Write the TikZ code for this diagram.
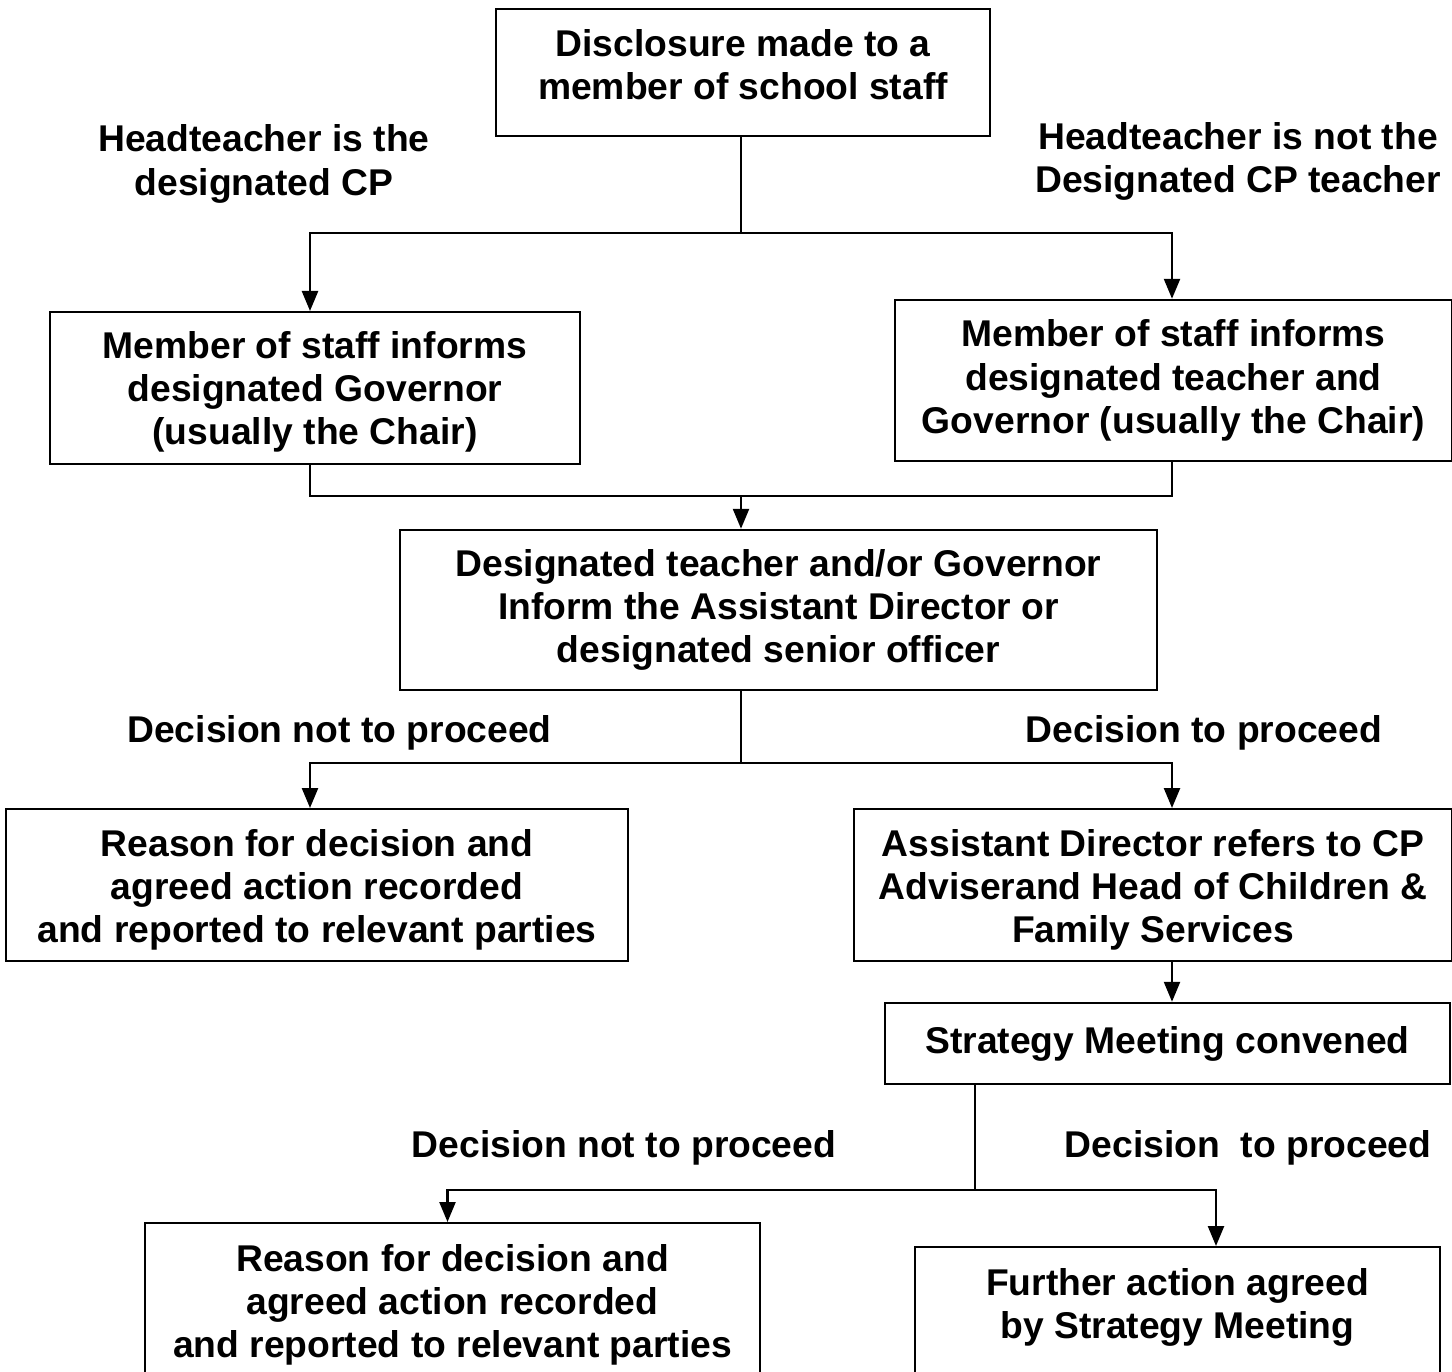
\documentclass[tikz,border=0pt]{standalone}
\usepackage{fontspec}
\setmainfont{Liberation Sans}
\usetikzlibrary{arrows.meta}

\begin{document}
\begin{tikzpicture}[>={Triangle[width=1.6mm,length=2mm]}, line width=0.7pt,
  font=\fontsize{10.6}{12.3}\selectfont\bfseries,
  box/.style={draw, align=center, inner sep=0pt},
  tbox/.style={box, align=flush center, anchor=north},
  lbl/.style={align=center, inner sep=0pt}]

\useasboundingbox (0,0) rectangle (14.52,-13.72);

% Boxes
\node[tbox, text width=4.94cm, text height=0.47cm, text depth=0.80cm] (disc) at (7.43,-0.08)
  {Disclosure made to a\\member of school staff};
\node[tbox, text width=5.30cm, text height=0.46cm, text depth=1.06cm] (infL) at (3.15,-3.11)
  {Member of staff informs\\designated Governor\\(usually the Chair)};
\node[box, minimum width=5.57cm, minimum height=1.61cm] (infR) at (11.735,-3.805)
  {Member of staff informs\\designated teacher and\\Governor (usually the Chair)};
\node[box, minimum width=7.57cm, minimum height=1.60cm] (inform) at (7.785,-6.10)
  {Designated teacher and/or Governor\\Inform the Assistant Director or\\designated senior officer};
\node[tbox, text width=6.22cm, text height=0.47cm, text depth=1.05cm] (reasonL) at (3.17,-8.08)
  {Reason for decision and\\agreed action recorded\\and reported to relevant parties};
\node[tbox, text width=5.98cm, text height=0.47cm, text depth=1.05cm] (refer) at (11.53,-8.08)
  {Assistant Director refers to CP\\Adviserand Head of Children \&\\Family Services};
\node[box, minimum width=5.65cm, minimum height=0.81cm] (strat) at (11.675,-10.435)
  {Strategy Meeting convened};
\node[tbox, text width=6.15cm, text height=0.48cm, text depth=1.6cm] (reasonB) at (4.525,-12.22)
  {Reason for decision and\\agreed action recorded\\and reported to relevant parties};
\node[tbox, text width=5.25cm, text height=0.48cm, text depth=1.6cm] (further) at (11.775,-12.46)
  {Further action agreed\\by Strategy Meeting};

% Labels
\node[lbl] (headyes) at (2.64,-1.64) {Headteacher is the\\designated CP};
\node[lbl] (headno) at (12.38,-1.615) {Headteacher is not the\\Designated CP teacher};
\node[lbl] (notA) at (3.395,-7.33) {Decision not to proceed};
\node[lbl] (yesA) at (12.04,-7.33) {Decision to proceed};
\node[lbl] (notB) at (6.24,-11.48) {Decision not to proceed};
\node[lbl] (yesB) at (12.48,-11.48) {Decision\ \ to proceed};

% Junctions
\coordinate (colL) at (3.10,0);
\coordinate (colR) at (11.72,0);
\coordinate (split1) at (7.41,-2.33);
\coordinate (join1) at (7.41,-4.96);
\coordinate (split2) at (7.41,-7.63);
\coordinate (split3) at (9.75,-11.90);

% Connectors
\draw (disc.south -| split1) -- (split1);
\draw[->] (split1) -| (infL.north -| colL);
\draw[->] (split1) -| (infR.north -| colR);
\draw (infL.south -| colL) |- (join1 -| colR) -- (infR.south -| colR);
\draw[->] (join1) -- (inform.north -| join1);
\draw (inform.south -| split2) -- (split2);
\draw[->] (split2) -| (reasonL.north -| colL);
\draw[->] (split2) -| (refer.north -| colR);
\draw[->] (refer.south -| colR) -- (strat.north -| colR);
\draw (strat.south -| split3) -- (split3);
\draw[->] (split3) -| ([xshift=-0.05cm]reasonB.north);
\draw[->] (split3) -| ([xshift=0.385cm]further.north);

\end{tikzpicture}
\end{document}
